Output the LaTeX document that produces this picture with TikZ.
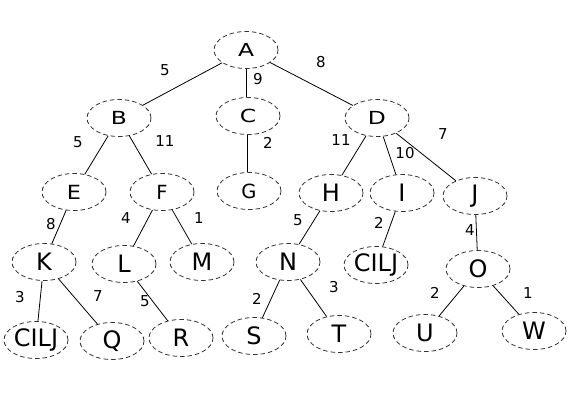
\documentclass[tikz,border=0pt]{standalone}
\usepackage{fontspec}
\setmainfont{DejaVu Sans}
\usetikzlibrary{shapes.geometric}
\tikzset{
  tnode/.style={ellipse, draw=black!80, dash pattern=on 4.5pt off 3pt, line width=0.8pt,
    minimum width=64pt, minimum height=37pt, inner sep=0pt},
  topl/.style={tnode, font=\fontsize{18}{20}\selectfont},
  midl/.style={tnode, font=\fontsize{19.5}{21}\selectfont},
  bigl/.style={tnode, font=\fontsize{24}{26}\selectfont},
  edge/.style={line width=0.8pt, black},
  wlab/.style={font=\fontsize{15}{17}\selectfont, inner sep=0pt},
}
\newcommand{\wide}[1]{\scalebox{1.3}[1]{#1}}
\begin{document}
\begin{tikzpicture}[x=1pt,y=-1pt]
\useasboundingbox (0,0) rectangle (580,400);
\node[topl] (A) at (246,50) {\wide{A}};
\node[topl] (B) at (119,118) {\wide{B}};
\node[topl] (C) at (248,116) {\wide{C}};
\node[topl] (D) at (377,118) {\wide{D}};
\node[midl] (E) at (74,192) {\scalebox{1.15}[1]{E}};
\node[midl] (F) at (162,192) {F};
\node[midl] (G) at (249,191) {G};
\node[bigl] (H) at (331,193) {H};
\node[bigl] (I) at (402,193) {I};
\node[bigl] (J) at (475,196) {J};
\node[bigl] (K) at (44,262) {K};
\node[bigl] (L) at (124,264) {L};
\node[bigl] (M) at (202,262) {M};
\node[bigl] (N) at (288,262) {N};
\node[bigl] (C2) at (376,265) {CILJ};
\node[bigl] (O) at (478,269) {O};
\node[bigl] (C1) at (36,340) {CILJ};
\node[bigl] (Q) at (112,341) {Q};
\node[bigl] (R) at (181,338) {R};
\node[bigl] (S) at (254,336) {S};
\node[bigl] (T) at (339,334) {T};
\node[bigl] (U) at (425,333) {U};
\node[bigl] (W) at (534,331) {W};

\draw[edge] (A) -- (B);
\draw[edge] (A.south -| 246,0) -- (C.north -| 246,0);
\draw[edge] (A) -- (D);
\draw[edge] (B) -- (E);
\draw[edge] (B) -- (F);
\draw[edge] (C.south -| 247,0) -- (G.north -| 247,0);
\draw[edge] (D) -- (H);
\draw[edge] (D) -- (I);
\draw[edge] (D) -- (J);
\draw[edge] (E) -- (K);
\draw[edge] (F) -- (L);
\draw[edge] (F) -- (M);
\draw[edge] (H) -- (N);
\draw[edge] (I) -- (C2);
\draw[edge] (J) -- (O);
\draw[edge] (K) -- (C1);
\draw[edge] (K) -- (Q);
\draw[edge] (L) -- (R);
\draw[edge] (N) -- (S);
\draw[edge] (N) -- (T);
\draw[edge] (O) -- (U);
\draw[edge] (O) -- (W);

\node[wlab] (lab) at (165,70) {5};
\node[wlab] (lac) at (258,79) {9};
\node[wlab] (lad) at (321,62) {8};
\node[wlab] (lbe) at (78,142) {5};
\node[wlab] (lbf) at (165,141) {11};
\node[wlab] (lcg) at (268,143) {2};
\node[wlab] (ldh) at (341,140) {11};
\node[wlab] (ldi) at (405,153) {10};
\node[wlab] (ldj) at (443,134) {7};
\node[wlab] (lek) at (51,224) {8};
\node[wlab] (lfl) at (126,218) {4};
\node[wlab] (lfm) at (199,218) {1};
\node[wlab] (lhn) at (298,220) {5};
\node[wlab] (lic) at (379,223) {2};
\node[wlab] (ljo) at (470,230) {4};
\node[wlab] (lkc) at (20,297) {3};
\node[wlab] (lkq) at (98,296) {7};
\node[wlab] (llr) at (145,301) {5};
\node[wlab] (lns) at (257,299) {2};
\node[wlab] (lnt) at (334,287) {3};
\node[wlab] (lou) at (435,293) {2};
\node[wlab] (low) at (528,293) {1};
\end{tikzpicture}
\end{document}
